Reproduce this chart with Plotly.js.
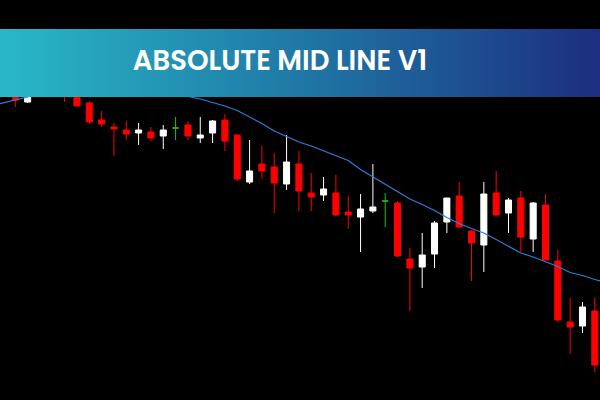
<!DOCTYPE html>
<html>
<head>
<meta charset="utf-8">
<script src="https://cdn.plot.ly/plotly-3.0.1.min.js"></script>
<style>
  html, body { margin: 0; padding: 0; background: #000; }
  #chart { width: 600px; height: 400px; }
</style>
</head>
<body>
<div id="chart"></div>
<script>
// ---- Data (price units) ----
const barIndex = [0,1,2,3,4,5,6,7,8,9,10,11,12,14,15,16,17,18,19,20,21,22,23,24,25,26,27,28,29,31,32,33,34,35,36,37,38,39,40,41,42,43,44,45,46,47];
const opens  = [1931.0,1929.8,1931.4,1930.8,1931.4,1930.8,1929.7,1928.0,1927.3,1927.0,1926.7,1926.8,1926.4,1927.5,1926.2,1926.7,1928.0,1926.5,1921.8,1923.6,1923.3,1921.6,1923.6,1920.7,1920.5,1920.7,1918.8,1918.3,1918.9,1919.7,1914.1,1913.3,1914.6,1917.8,1920.4,1916.9,1915.5,1920.7,1918.7,1920.2,1916.1,1919.5,1913.9,1907.8,1907.4,1908.9];
const highs  = [1931.6,1931.4,1931.8,1932.0,1932.0,1931.2,1929.9,1928.9,1927.7,1927.9,1927.7,1927.3,1927.5,1927.9,1928.3,1928.0,1928.6,1926.6,1926.0,1925.4,1924.7,1926.5,1924.9,1922.7,1922.3,1922.5,1920.4,1920.6,1923.6,1919.9,1915.2,1916.7,1917.9,1920.2,1921.8,1917.0,1921.8,1922.9,1920.2,1920.9,1919.8,1920.6,1915.0,1910.2,1909.8,1910.2];
const lows   = [1929.3,1929.7,1930.4,1930.5,1929.8,1929.4,1927.6,1927.3,1924.4,1926.0,1925.5,1925.9,1925.1,1926.0,1925.7,1925.7,1924.9,1921.9,1921.6,1922.1,1918.7,1921.0,1918.9,1918.9,1919.9,1918.4,1917.1,1914.8,1918.7,1914.3,1908.9,1911.2,1913.2,1916.7,1917.2,1911.9,1912.8,1918.4,1916.7,1914.8,1914.8,1914.0,1907.8,1904.6,1906.7,1902.8];
const closes = [1930.0,1930.9,1930.7,1931.5,1930.6,1929.4,1927.8,1927.6,1927.1,1926.6,1927.0,1926.2,1927.0,1926.4,1926.5,1927.9,1925.9,1922.1,1922.9,1922.9,1921.7,1923.8,1920.9,1920.3,1921.1,1918.5,1918.5,1919.1,1919.3,1914.4,1913.2,1914.5,1917.7,1920.2,1917.3,1915.7,1920.6,1918.5,1920.0,1916.3,1919.7,1914.0,1908.0,1907.3,1909.3,1903.5];

// Doji bars (open equals close)
const dojiIndex = [13, 30];
const dojiOpen  = [1927.2, 1919.9];
const dojiHigh  = [1928.3, 1920.7];
const dojiLow   = [1926.0, 1917.3];
const dojiClose = [1927.2, 1919.9];

// Mid line (moving average)
const midIndex = [-2,-1,0,1,2,3,4,5,6,7,8,9,10,11,12,13,14,15,16,17,18,19,20,21,22,23,24,25,26,27,28,29,30,31,32,33,34,35,36,37,38,39,40,41,42,43,44,45,46,47,48];
const midLine  = [1929.4,1929.7,1930.0,1930.3,1930.6,1930.8,1930.9,1930.95,1930.95,1930.9,1930.85,1930.8,1930.7,1930.65,1930.55,1930.45,1930.35,1930.1,1929.75,1929.4,1928.95,1928.3,1927.65,1926.9,1926.33,1925.8,1925.4,1924.93,1924.5,1923.95,1923.05,1922.3,1921.6,1920.8,1920.1,1919.55,1918.95,1918.25,1917.65,1917.15,1916.7,1916.05,1915.35,1914.7,1914.3,1913.85,1913.35,1912.75,1912.45,1912.05,1911.7];

const titleText = 'ABSOLUTE MID LINE V1';

// ---- Traces ----
const candles = {
  type: 'candlestick',
  x: barIndex, open: opens, high: highs, low: lows, close: closes,
  increasing: { line: { color: '#ffffff', width: 1 }, fillcolor: '#ffffff' },
  decreasing: { line: { color: '#ff0000', width: 1 }, fillcolor: '#ff0000' },
  whiskerwidth: 0,
  hoverinfo: 'skip',
  showlegend: false
};
const dojis = {
  type: 'candlestick',
  x: dojiIndex, open: dojiOpen, high: dojiHigh, low: dojiLow, close: dojiClose,
  increasing: { line: { color: '#1fc01f', width: 1 }, fillcolor: '#1fc01f' },
  decreasing: { line: { color: '#1fc01f', width: 1 }, fillcolor: '#1fc01f' },
  whiskerwidth: 0,
  hoverinfo: 'skip',
  showlegend: false
};
const mid = {
  type: 'scatter', mode: 'lines',
  x: midIndex, y: midLine,
  line: { color: '#2b80dc', width: 1.2 },
  hoverinfo: 'skip',
  showlegend: false
};

// Banner gradient as inline SVG image (no network)
const bannerSvg = '<svg xmlns="http://www.w3.org/2000/svg" width="600" height="68" preserveAspectRatio="none">' +
  '<defs><linearGradient id="g" x1="0" y1="0" x2="1" y2="0">' +
  '<stop offset="0" stop-color="#29b8c7"/><stop offset="0.5" stop-color="#1f78a6"/><stop offset="1" stop-color="#1c2e7f"/>' +
  '</linearGradient></defs><rect width="600" height="68" fill="url(#g)"/></svg>';

const layout = {
  width: 600, height: 400,
  margin: { l: 0, r: 0, t: 0, b: 0 },
  paper_bgcolor: '#000000',
  plot_bgcolor: '#000000',
  showlegend: false,
  boxgap: 0.3,
  xaxis: { range: [-1.241, 47.42], visible: false, rangeslider: { visible: false }, fixedrange: true },
  yaxis: { range: [1900, 1940], visible: false, fixedrange: true },
  images: [{
    source: 'data:image/svg+xml;charset=utf-8,' + encodeURIComponent(bannerSvg),
    xref: 'paper', yref: 'paper',
    x: 0, y: 1 - 29 / 400, sizex: 1, sizey: 68 / 400,
    xanchor: 'left', yanchor: 'top',
    sizing: 'stretch', layer: 'above'
  }],
  title: {
    text: titleText,
    font: { family: 'Poppins, Inter, Lato, sans-serif', size: 27.5, weight: 600, color: '#ffffff' },
    x: 280 / 600, xanchor: 'center', xref: 'paper',
    y: 1 - 60 / 400, yanchor: 'middle', yref: 'container'
  }
};

Plotly.newPlot('chart', [candles, dojis, mid], layout, { staticPlot: true, displayModeBar: false });
</script>
</body>
</html>
